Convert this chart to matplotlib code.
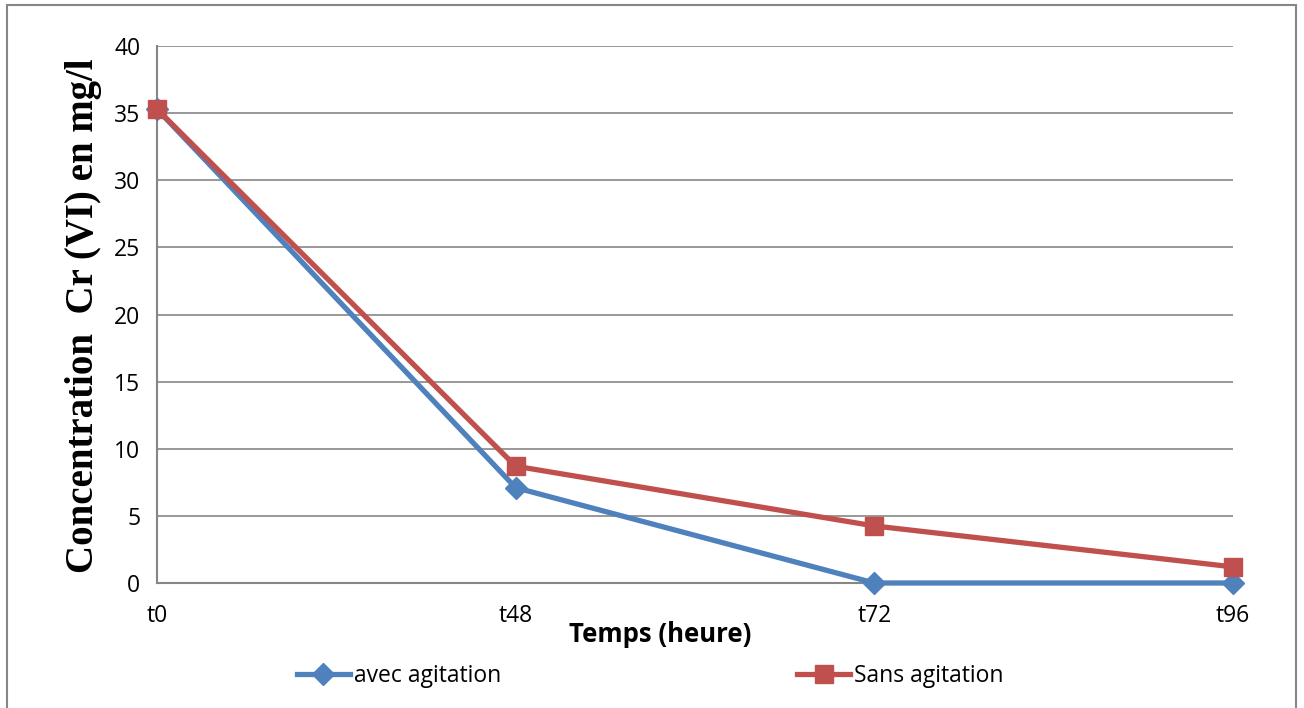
import matplotlib
import matplotlib.pyplot as plt
from matplotlib.patches import Rectangle

matplotlib.use("Agg")

temps = ["t0", "t48", "t72", "t96"]
avec_agitation = [35.3, 7.1, 0.0, 0.0]
sans_agitation = [35.3, 8.7, 4.25, 1.2]

BLUE = "#4F81BD"
RED = "#C0504D"
GRID = "#868686"

plt.rcParams["font.family"] = ["Open Sans", "DejaVu Sans"]

W, H = 1304, 708
fig = plt.figure(figsize=(W / 100, H / 100), dpi=100)
ax = fig.add_axes([157 / W, (H - 583) / H, (1233 - 157) / W, (583 - 46) / H])

x = list(range(len(temps)))
ax.plot(x, avec_agitation, color=BLUE, lw=3.8, marker="D", ms=11,
        label="avec agitation", zorder=3, clip_on=False)
ax.plot(x, sans_agitation, color=RED, lw=3.8, marker="s", ms=13,
        label="Sans agitation", zorder=4, clip_on=False)

ax.set_xlim(0, len(temps) - 1)
ax.set_ylim(0, 40)
ax.set_yticks(range(0, 41, 5))
ax.set_xticks(x)
ax.set_xticklabels(temps)
ax.tick_params(length=0, labelsize=16.5, pad=12)
ax.tick_params(axis="x", pad=15)
ax.yaxis.grid(True, color=GRID, lw=1.2)
ax.set_axisbelow(True)
for side in ["top", "right"]:
    ax.spines[side].set_visible(False)
for side in ["left", "bottom"]:
    ax.spines[side].set_color(GRID)
    ax.spines[side].set_linewidth(1.5)

fig.text(660 / W, 1 - 635 / H, "Temps (heure)", ha="center", va="center",
         fontsize=18.5, fontweight="bold")
fig.text(84 / W, 1 - 316 / H, "Concentration  Cr (VI) en mg/l", rotation=90,
         ha="center", va="center", fontsize=28, fontweight="bold",
         family=["Liberation Serif", "DejaVu Serif"])

fig.legend(loc="center left", bbox_to_anchor=(297 / W, 1 - 676 / H), ncol=2,
           frameon=False, fontsize=16.5, handlelength=2.3, handletextpad=0.2,
           columnspacing=12.9, borderaxespad=0, borderpad=0)

fig.patches.append(Rectangle((7 / W, -5 / H), (1296 - 7) / W, (703 + 5) / H,
                             transform=fig.transFigure, fill=False,
                             edgecolor=GRID, lw=1.5))

fig.savefig("out.png", dpi=100)
